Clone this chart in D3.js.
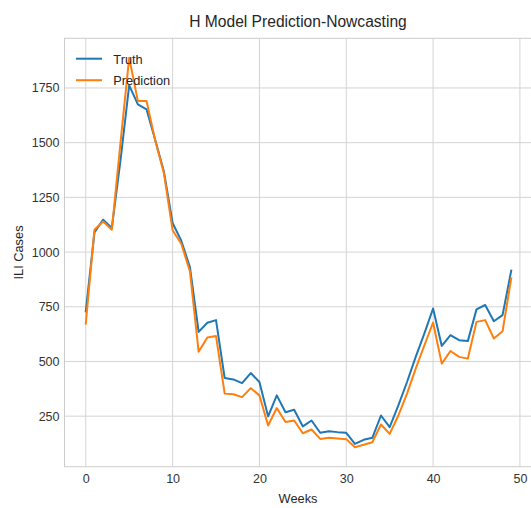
<!DOCTYPE html>
<html>
<head>
<meta charset="utf-8">
<script src="https://cdn.jsdelivr.net/npm/d3@7"></script>
<style>
  html, body { margin: 0; padding: 0; background: #ffffff; }
  svg { display: block; font-family: "Liberation Sans", Arial, sans-serif; }
</style>
</head>
<body>
<div id="chart"></div>
<script>
const weeks = d3.range(0, 50);
const truth = [729, 1090, 1148, 1110, 1420, 1762, 1675, 1652, 1512, 1368,
               1133, 1052, 930, 635, 677, 689, 424, 418, 401, 447,
               406, 249, 345, 268, 279, 203, 230, 174, 181, 177,
               174, 123, 142, 151, 253, 200, 299, 406, 521, 628,
               742, 571, 620, 597, 593, 738, 758, 684, 712, 915];
const prediction = [673, 1102, 1140, 1102, 1500, 1888, 1690, 1690, 1510, 1360,
                    1100, 1038, 911, 544, 610, 616, 353, 350, 337, 378,
                    345, 207, 287, 223, 230, 172, 189, 146, 151, 148,
                    145, 108, 119, 131, 212, 169, 253, 353, 467, 574,
                    678, 490, 548, 521, 513, 681, 689, 605, 638, 880];
const xTicks = [0, 10, 20, 30, 40, 50];
const yTicks = [250, 500, 750, 1000, 1250, 1500, 1750];
const seriesNames = ["Truth", "Prediction"];
const seriesColors = ["#1f77b4", "#ff7f0e"];

const W = 531, H = 508;
const plot = { left: 64.5, right: 532.5, top: 38.3, bottom: 466.7 };

const svg = d3.select("#chart").append("svg").attr("width", W).attr("height", H);

const xPad = (d3.max(weeks) - d3.min(weeks)) * 0.05;
const x = d3.scaleLinear()
  .domain([d3.min(weeks) - xPad, d3.max(weeks) + xPad])
  .range([plot.left, plot.right]);
const allVals = truth.concat(prediction);
const yMin = d3.min(allVals), yMax = d3.max(allVals);
const yPad = (yMax - yMin) * 0.05;
const y = d3.scaleLinear()
  .domain([yMin - yPad, yMax + yPad])
  .range([plot.bottom, plot.top]);

// grid
const grid = svg.append("g");
grid.selectAll("line.xg").data(xTicks).join("line")
  .attr("x1", d => x(d)).attr("x2", d => x(d))
  .attr("y1", plot.top).attr("y2", plot.bottom)
  .attr("stroke", "#d4d4d4").attr("stroke-width", 1);
grid.selectAll("line.yg").data(yTicks).join("line")
  .attr("x1", plot.left).attr("x2", plot.right)
  .attr("y1", d => y(d)).attr("y2", d => y(d))
  .attr("stroke", "#d4d4d4").attr("stroke-width", 1);

// frame
svg.append("rect")
  .attr("x", plot.left).attr("y", plot.top)
  .attr("width", plot.right - plot.left).attr("height", plot.bottom - plot.top)
  .attr("fill", "none").attr("stroke", "#cccccc").attr("stroke-width", 1);

// axes (labels only, seaborn whitegrid style)
const xAxis = d3.axisBottom(x).tickValues(xTicks).tickFormat(d3.format("d")).tickSize(0).tickPadding(7);
const gx = svg.append("g").attr("transform", `translate(0,${plot.bottom})`).call(xAxis);
gx.select(".domain").remove();
gx.selectAll("text").attr("font-size", 12.5).attr("fill", "#333333")
  .attr("font-family", "Liberation Sans, Arial, sans-serif");

const yAxis = d3.axisLeft(y).tickValues(yTicks).tickFormat(d3.format("d")).tickSize(0).tickPadding(5);
const gy = svg.append("g").attr("transform", `translate(${plot.left},0)`).call(yAxis);
gy.select(".domain").remove();
gy.selectAll("text").attr("font-size", 12.5).attr("fill", "#333333")
  .attr("font-family", "Liberation Sans, Arial, sans-serif");

// lines
const line = d3.line().x((d, i) => x(weeks[i])).y(d => y(d));
[truth, prediction].forEach((s, k) => {
  svg.append("path").datum(s)
    .attr("d", line)
    .attr("fill", "none")
    .attr("stroke", seriesColors[k])
    .attr("stroke-width", 2)
    .attr("stroke-linejoin", "round")
    .attr("stroke-linecap", "square");
});

// legend
const leg = svg.append("g");
seriesNames.forEach((name, k) => {
  const yy = 58.7 + k * 21.5;
  leg.append("line").attr("x1", 76).attr("x2", 102).attr("y1", yy).attr("y2", yy)
    .attr("stroke", seriesColors[k]).attr("stroke-width", 2);
  leg.append("text").attr("x", 113.3).attr("y", yy + 5.2)
    .attr("font-size", 12.8).attr("fill", "#262626").text(name);
});

// title and axis labels
svg.append("text").attr("x", (plot.left + plot.right) / 2 - 0.5).attr("y", 26.7)
  .attr("text-anchor", "middle").attr("font-size", 15.6).attr("fill", "#262626")
  .text("H Model Prediction-Nowcasting");
svg.append("text").attr("x", (plot.left + plot.right) / 2 - 0.5).attr("y", 503.3)
  .attr("text-anchor", "middle").attr("font-size", 12.8).attr("fill", "#262626")
  .text("Weeks");
svg.append("text")
  .attr("transform", `translate(22.5,${(plot.top + plot.bottom) / 2}) rotate(-90)`)
  .attr("text-anchor", "middle").attr("font-size", 12.8).attr("fill", "#262626")
  .text("ILI Cases");
</script>
</body>
</html>
